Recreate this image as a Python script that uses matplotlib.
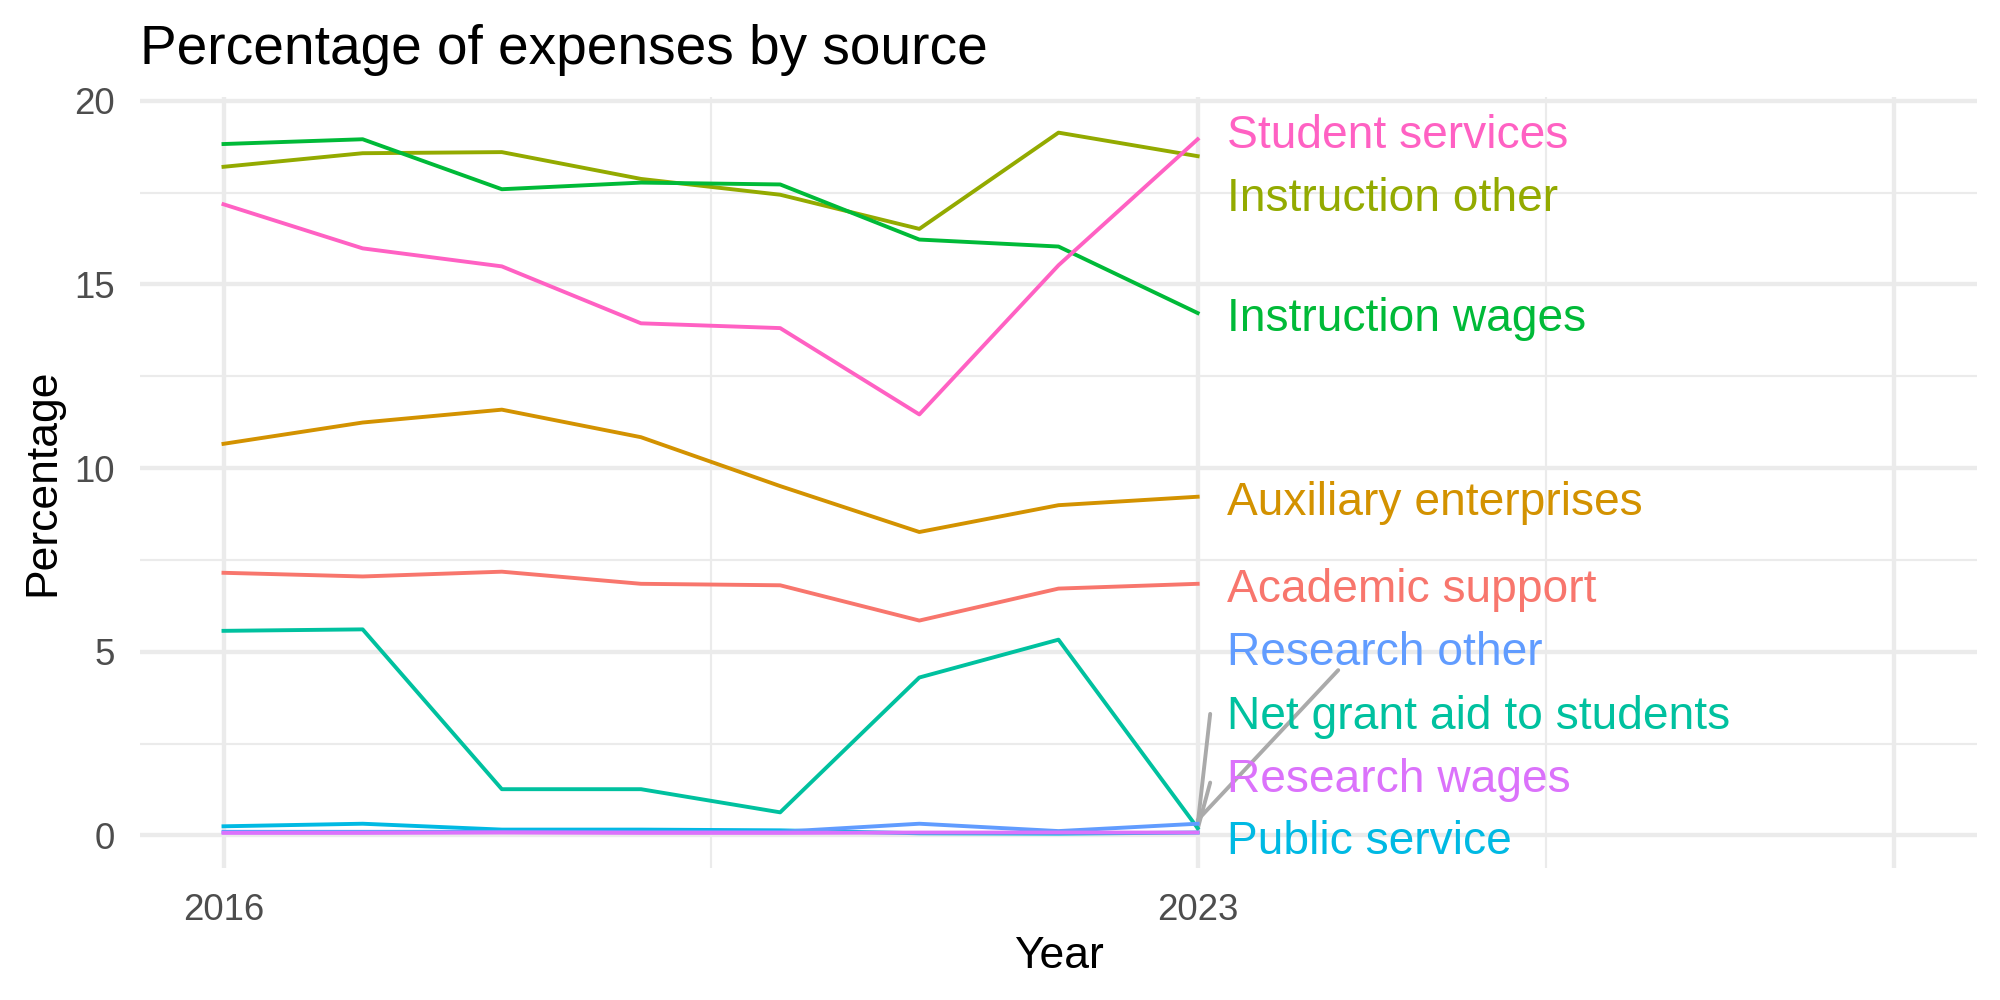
import matplotlib
matplotlib.use("Agg")
import matplotlib.pyplot as plt

plt.rcParams['font.family'] = ['Liberation Sans', 'DejaVu Sans']

# data
years = [2016, 2017, 2018, 2019, 2020, 2021, 2022, 2023]
sources = [
    "Academic support", "Auxiliary enterprises", "Instruction other",
    "Instruction wages", "Net grant aid to students", "Public service",
    "Research other", "Research wages", "Student services",
]
academic_support = [7.15, 7.05, 7.18, 6.85, 6.81, 5.85, 6.72, 6.85]
auxiliary_enterprises = [10.66, 11.24, 11.59, 10.84, 9.51, 8.26, 8.99, 9.22]
instruction_other = [18.20, 18.57, 18.60, 17.87, 17.44, 16.51, 19.13, 18.49]
instruction_wages = [18.82, 18.95, 17.59, 17.77, 17.72, 16.22, 16.03, 14.22]
net_grant_aid = [5.57, 5.61, 1.26, 1.26, 0.63, 4.30, 5.33, 0.20]
public_service = [0.25, 0.32, 0.16, 0.16, 0.14, 0.06, 0.05, 0.08]
research_other = [0.10, 0.10, 0.10, 0.10, 0.10, 0.32, 0.12, 0.32]
research_wages = [0.07, 0.07, 0.08, 0.07, 0.07, 0.08, 0.08, 0.08]
student_services = [17.18, 15.98, 15.49, 13.94, 13.81, 11.46, 15.52, 18.95]

series = [academic_support, auxiliary_enterprises, instruction_other,
          instruction_wages, net_grant_aid, public_service,
          research_other, research_wages, student_services]
colors = ["#F8766D", "#D39200", "#93AA00", "#00BA38", "#00C19F",
          "#00B9E3", "#619CFF", "#DB72FB", "#FF61C3"]

# repelled label baselines, same order as sources
label_y = [6.36, 8.72, 16.99, 13.72, 2.90, -0.51, 4.63, 1.19, 18.72]
# label anchor for the connecting segments (only some labels have them)
segment_from = {"Research other": (2024.01, 4.50),
                "Net grant aid to students": (2023.09, 3.31),
                "Research wages": (2023.09, 1.44)}

fig = plt.figure(figsize=(10, 5), dpi=200)
ax = fig.add_axes([0.07, 0.132, 0.9185, 0.771])

for name, vals, col in zip(sources, series, colors):
    ax.plot(years, vals, color=col, linewidth=1.4, zorder=3)

for name, vals, col, ly in zip(sources, series, colors, label_y):
    if name in segment_from:
        x0, y0 = segment_from[name]
        ax.plot([x0, years[-1]], [y0, vals[-1] + 0.1], color="#AAAAAA",
                linewidth=1.4, zorder=2, solid_capstyle='round')
    ax.text(2023.21, ly, name, color=col, fontsize=16.6, ha='left',
            va='baseline', zorder=4)

ax.set_xlim(2015.4, 2028.6)
ax.set_ylim(-0.885, 20.1)
ax.set_xticks([2016, 2023, 2028])
ax.set_xticklabels(["2016", "2023", ""])
ax.set_xticks([2019.5, 2025.5], minor=True)
ax.set_yticks([0, 5, 10, 15, 20])
ax.set_yticks([2.5, 7.5, 12.5, 17.5], minor=True)

ax.grid(which='major', color="#EBEBEB", linewidth=1.55)
ax.grid(which='minor', color="#EBEBEB", linewidth=0.78)
ax.set_axisbelow(True)
for s in ax.spines.values():
    s.set_visible(False)
ax.tick_params(which='both', length=0)
ax.tick_params(axis='both', labelsize=13.2, labelcolor="#4D4D4D", pad=9)

ax.set_xlabel("Year", fontsize=16, labelpad=3)
ax.set_ylabel("Percentage", fontsize=16, labelpad=4)
fig.text(0.07, 0.936, "Percentage of expenses by source", fontsize=19.8,
         ha='left', va='baseline')

plt.savefig("out.png", dpi=200)
